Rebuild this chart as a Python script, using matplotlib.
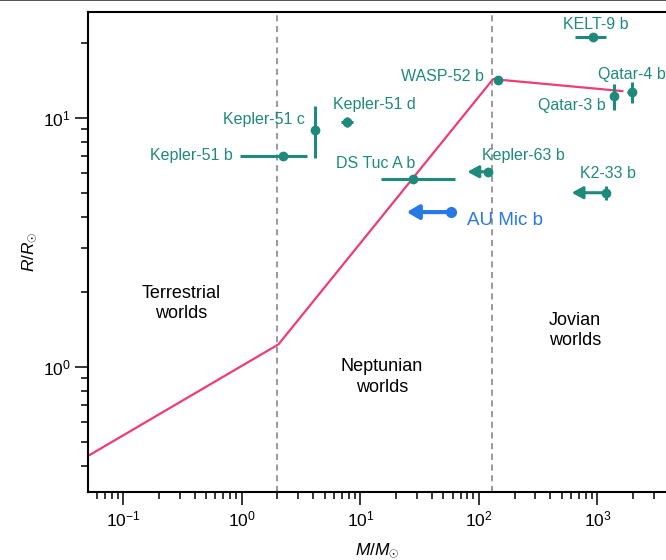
import matplotlib
matplotlib.use('Agg')
import matplotlib.pyplot as plt
from matplotlib.lines import Line2D
import numpy as np

plt.rcParams.update({
    'font.family': ['Liberation Sans', 'DejaVu Sans'],
    'mathtext.fontset': 'custom',
    'mathtext.rm': 'Liberation Sans',
    'mathtext.it': 'Liberation Sans:italic',
    'mathtext.sf': 'Liberation Sans',
    'font.size': 12,
})

TEAL = '#1e8a7b'
BLUE = '#2878e6'
PINK = '#f03c74'
GREY = '#7f7f7f'

# planets (mass in Earth masses, radius in Earth radii)
names = ['Kepler-51 b', 'Kepler-51 c', 'Kepler-51 d', 'DS Tuc A b', 'WASP-52 b',
         'Kepler-63 b', 'KELT-9 b', 'Qatar-3 b', 'Qatar-4 b', 'K2-33 b']
mass = [2.24, 4.15, 7.68, 28.0, 146, 120, 911, 1386, 1942, 1180]
radius = [7.04, 8.95, 9.61, 5.67, 14.17, 6.07, 21.1, 12.25, 12.7, 5.0]
mass_lo = [1.27, 0, 0.8, 13.1, 0, 0, 265, 0, 180, 0]
mass_hi = [1.29, 0, 0.95, 34.9, 0, 0, 269, 0, 170, 0]
rad_lo = [0, 2.08, 0.41, 0, 0, 0, 0, 1.51, 1.28, 0.33]
rad_hi = [0, 2.19, 0.43, 0, 0, 0, 0, 1.45, 1.2, 0.32]
# mass upper limits: arrow tip
limit_names = ['Kepler-63 b', 'K2-33 b']
limit_tip = [80, 606]

# AU Mic b
aumic_mass = 58.2
aumic_radius = 4.18
aumic_tip = 24.6

# forecaster relation vertices
rel_mass = [0.05, 2.04, 131.6, 1620]
rel_radius = [0.437, 1.23, 14.3, 12.8]

# class boundaries
bounds = [2.0, 130]

regions = ['Terrestrial\nworlds', 'Neptunian\nworlds', 'Jovian\nworlds']
region_mass = [0.308, 15.2, 646]
region_radius = [1.80, 0.91, 1.40]

# label offsets in pixels from each point
label_off = {
    'Kepler-51 b': (-92, 0), 'Kepler-51 c': (-51, 10), 'Kepler-51 d': (28, 18),
    'DS Tuc A b': (-38, 16), 'WASP-52 b': (-56, 4), 'Kepler-63 b': (35, 16),
    'KELT-9 b': (3, 13), 'Qatar-3 b': (-42, -10), 'Qatar-4 b': (0, 17),
    'K2-33 b': (2, 19),
}

fig = plt.figure(figsize=(6.66, 5.6), dpi=100)
ax = fig.add_axes([88/666, 1-492/560, 1-88/666, (492-12)/560])
ax.set_xscale('log')
ax.set_yscale('log')
ax.set_xlim(0.0505, 3784)
ax.set_ylim(0.314, 26.6)

for b in bounds:
    ax.axvline(b, color=GREY, lw=1.1, ls=(0, (4, 3)), zorder=1)

ax.plot(rel_mass, rel_radius, color=PINK, lw=1.6, zorder=2)

ax.errorbar(mass, radius, xerr=[mass_lo, mass_hi], yerr=[rad_lo, rad_hi],
            fmt='o', color=TEAL, ms=6, elinewidth=2.2, capsize=0, zorder=4)

for n, tip in zip(limit_names, limit_tip):
    i = names.index(n)
    ax.annotate('', xy=(tip, radius[i]), xytext=(mass[i], radius[i]),
                arrowprops=dict(arrowstyle='-|>,head_length=0.55,head_width=0.3',
                                color=TEAL, lw=2.2, shrinkA=0, shrinkB=0), zorder=3)

ax.annotate('', xy=(aumic_tip, aumic_radius), xytext=(aumic_mass, aumic_radius),
            arrowprops=dict(arrowstyle='-|>,head_length=0.6,head_width=0.35',
                            color=BLUE, lw=3, shrinkA=0, shrinkB=0), zorder=3)
ax.plot([aumic_mass], [aumic_radius], 'o', color=BLUE, ms=7, zorder=5)
ax.annotate('AU Mic b', (aumic_mass, aumic_radius), xytext=(54, -8),
            textcoords='offset pixels', ha='center', va='center',
            fontsize=13.5, color=BLUE)

for n, m, r in zip(names, mass, radius):
    dx, dy = label_off[n]
    ax.annotate(n, (m, r), xytext=(dx, dy), textcoords='offset pixels',
                ha='center', va='center', fontsize=11.5, color=TEAL)

for t, m, r in zip(regions, region_mass, region_radius):
    ax.text(m, r, t, ha='center', va='center', fontsize=13, linespacing=1.25)

for s in ['left', 'bottom', 'top']:
    ax.spines[s].set_linewidth(1.5)
ax.spines['right'].set_visible(False)
ax.tick_params(which='major', length=9.5, width=1.1, labelsize=12.5, pad=3)
ax.tick_params(which='minor', length=4.7, width=1.1)
ax.tick_params(top=False, right=False, which='both')

ax.set_xlabel(r'$M/M_{\odot}$', fontsize=12.5, labelpad=9)
ax.set_ylabel(r'$R/R_{\odot}$', fontsize=12.5, labelpad=3)

fig.add_artist(Line2D([0, 1], [0.9995, 0.9995], color='#333333', lw=1.2))

fig.savefig('out.png', dpi=100)
